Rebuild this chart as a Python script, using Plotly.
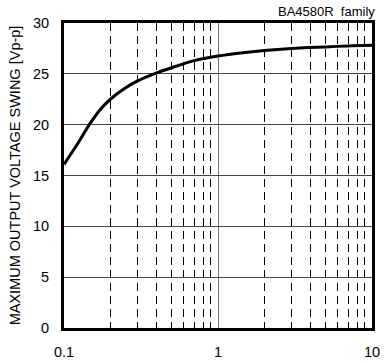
import plotly.graph_objects as go

# Data
load_kohm = [0.1, 0.12, 0.146, 0.17, 0.2, 0.25, 0.3, 0.4, 0.5, 0.7, 1, 1.5, 2, 3, 5, 7, 10]
swing_vpp = [16.1, 17.9, 20.0, 21.4, 22.5, 23.6, 24.3, 25.1, 25.6, 26.3, 26.75, 27.1, 27.3, 27.5, 27.65, 27.75, 27.8]

y_ticks = [0, 5, 10, 15, 20, 25, 30]
x_ticks = [0.1, 1, 10]
x_tick_labels = ["0.1", "1", "10"]

FONT = "Liberation Sans, Arial, sans-serif"

fig = go.Figure()
fig.add_trace(go.Scatter(
    x=load_kohm, y=swing_vpp, mode="lines",
    line=dict(color="black", width=3, shape="spline", smoothing=0.6),
    showlegend=False, hoverinfo="skip",
))

fig.update_layout(
    width=384, height=363,
    margin=dict(l=64, r=12, t=23, b=35),
    paper_bgcolor="white", plot_bgcolor="white",
    font=dict(family=FONT, size=14.5, color="black"),
    annotations=[dict(
        text="BA4580R\u00a0 family", xref="paper", yref="paper",
        x=1.016, y=1.0, xanchor="right", yanchor="bottom", yshift=2,
        showarrow=False, font=dict(family=FONT, size=13, color="black"),
    )],
)

fig.update_xaxes(
    type="log", range=[-1, 1], automargin=False,
    tickvals=x_ticks, ticktext=x_tick_labels,
    showgrid=True, gridcolor="#777777", gridwidth=1,
    showline=True, linecolor="black", linewidth=3, mirror=True,
    ticks="", ticklabelstandoff=9,
    minor=dict(dtick="D1", showgrid=True, gridcolor="black", gridwidth=1, griddash="8px,5px", ticks=""),
    zeroline=False,
)
fig.update_yaxes(
    range=[0, 30], tickvals=y_ticks, automargin=False,
    showgrid=True, gridcolor="#444444", gridwidth=1,
    showline=True, linecolor="black", linewidth=3, mirror=True,
    ticks="", ticklabelstandoff=9,
    title=dict(text="MAXIMUM OUTPUT VOLTAGE SWING [Vp-p]", font=dict(family=FONT, size=14.5), standoff=9),
    zeroline=False,
)

fig.write_html("out.html", config={"displayModeBar": False},
               post_script="document.body.style.margin='0';")
